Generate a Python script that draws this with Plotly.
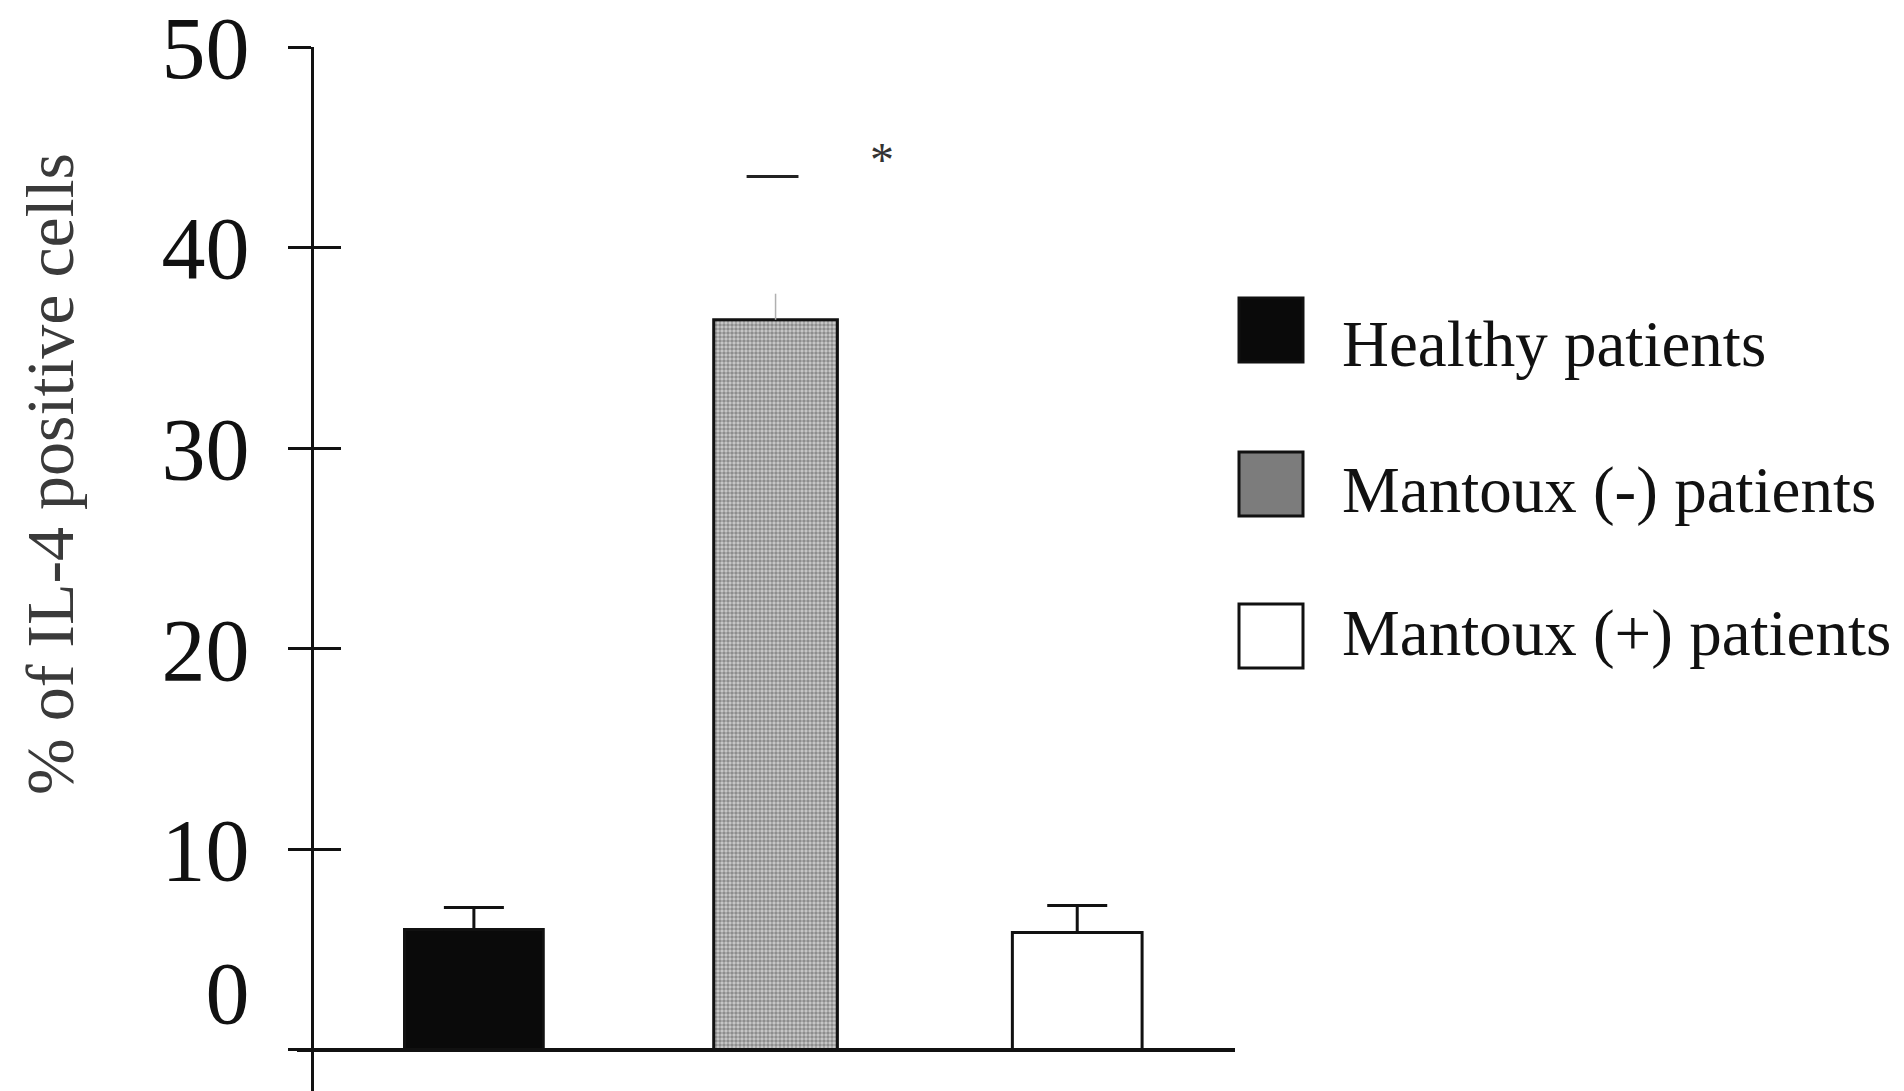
import plotly.graph_objects as go

# ---------------- data ----------------
categories = ["Healthy patients", "Mantoux (-) patients", "Mantoux (+) patients"]
means = [6.0, 36.4, 5.85]
errors = [1.1, 1.3, 1.35]
y_ticks = [0, 10, 20, 30, 40, 50]
y_tick_labels = ["0<br> ", "10", "20", "30", "40", "50"]
y_title = "% of IL-4 positive cells"
sig_label = "*"

# ---------------- style ----------------
W, H = 1904, 1091
L, R, T, B = 314, 1904 - 1235, 47, 0
PW, PH = W - L - R, H - T - B
FONT = "Liberation Serif"
INK = "#111111"


def px_x(px):
    return (px - L) / PW


def px_y(py):
    return (H - B - py) / PH


bar_fill = ["#0a0a0a", "#b4b4b4", "#ffffff"]
bar_widths = [0.46, 0.41, 0.43]
err_colors = [INK, "#b0b0b0", INK]
err_thick = [3, 1.5, 3]
err_caps = [30, 0, 30]
bar_axes = ["y", "y2", "y"]   # one bar on the overlay axis so its inner ticks are drawn

fig = go.Figure()
for i, cat in enumerate(categories):
    marker = dict(color=bar_fill[i], line=dict(color=INK, width=3))
    if i == 1:
        marker["pattern"] = dict(shape=".", size=4, solidity=0.6,
                                 fgcolor="#4e4e4e", bgcolor="#cccccc",
                                 fillmode="overlay")
    fig.add_trace(go.Bar(
        x=[cat], y=[means[i]], name=cat, width=[bar_widths[i]],
        marker=marker, yaxis=bar_axes[i],
        error_y=dict(type="data", array=[errors[i]], symmetric=False,
                     arrayminus=[0], color=err_colors[i],
                     thickness=err_thick[i], width=err_caps[i]),
        showlegend=False, hoverinfo="skip",
    ))

yrange = [-2.05, 50]

fig.update_layout(
    width=W, height=H,
    margin=dict(l=L, r=R, t=T, b=B, pad=0),
    paper_bgcolor="white", plot_bgcolor="white",
    barmode="overlay",
    font=dict(family=FONT, color=INK),
    xaxis=dict(range=[-0.53, 2.523], showticklabels=False, ticks="",
               showgrid=False, zeroline=False, showline=False,
               type="category", automargin=False),
    yaxis=dict(range=yrange, tickvals=y_ticks, ticktext=y_tick_labels,
               ticks="outside", ticklen=23, tickwidth=3, tickcolor=INK,
               showline=True, linecolor=INK, linewidth=3,
               showgrid=False, zeroline=False, automargin=False,
               tickfont=dict(family=FONT, size=88, color=INK),
               ticklabelstandoff=21, ticklabeloverflow="allow"),
    yaxis2=dict(range=yrange, overlaying="y", anchor="x", side="left",
                tickvals=y_ticks, ticks="inside", ticklen=27, tickwidth=3,
                tickcolor=INK, showticklabels=False, showline=False,
                showgrid=False, zeroline=False, automargin=False),
)

# baseline (x axis line), extends slightly left of the y axis
fig.add_shape(type="line", xref="paper", yref="y",
              x0=px_x(297), x1=1, y0=0, y1=0,
              line=dict(color=INK, width=4), layer="above")

# significance marks
fig.add_shape(type="line", xref="x", yref="y", x0=0.904, x1=1.076,
              y0=43.54, y1=43.54, line=dict(color="#222222", width=3))
fig.add_annotation(x=1.354, y=44.4, xref="x", yref="y", text=sig_label,
                   showarrow=False, font=dict(family=FONT, size=48, color="#333333"))

# y axis title
fig.add_annotation(x=px_x(50), y=px_y(474), xref="paper", yref="paper",
                   text=y_title, textangle=-90, showarrow=False,
                   xanchor="center", yanchor="middle",
                   font=dict(family=FONT, size=68, color="#3a3a3a"))

# legend (drawn manually to match the large swatches)
leg_tops = [298, 452, 604]
leg_text_y = [344, 490, 633]
leg_fill = ["#0a0a0a", "#7c7c7c", "#ffffff"]
for i, cat in enumerate(categories):
    fig.add_shape(type="rect", xref="paper", yref="paper",
                  x0=px_x(1239), x1=px_x(1303),
                  y0=px_y(leg_tops[i] + 64), y1=px_y(leg_tops[i]),
                  fillcolor=leg_fill[i], line=dict(color=INK, width=3))
    fig.add_annotation(x=px_x(1340), y=px_y(leg_text_y[i]), xref="paper", yref="paper",
                       text=cat, showarrow=False, xanchor="left", yanchor="middle",
                       font=dict(family=FONT, size=65, color=INK))

fig.write_html("out.html",
               config={"displayModeBar": False},
               post_script="document.body.style.margin='0';"
                           "document.body.style.overflow='hidden';")
